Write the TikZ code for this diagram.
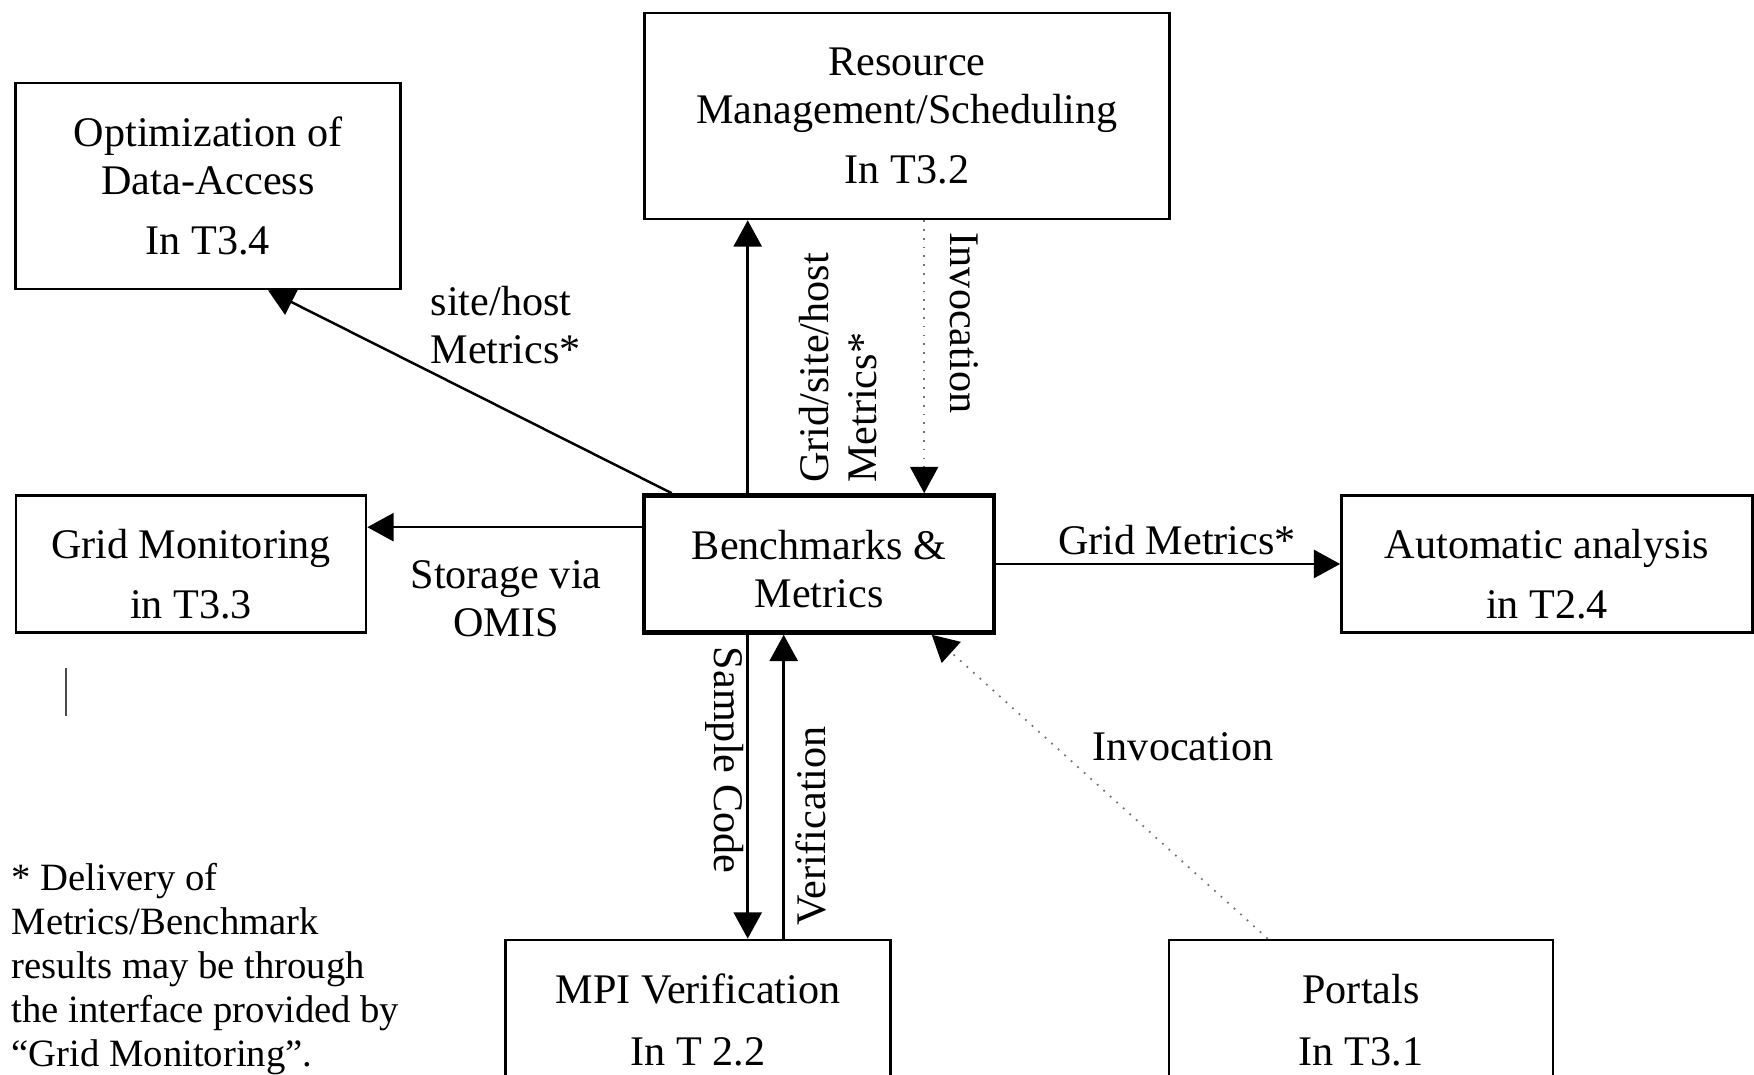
\documentclass[tikz,border=0pt]{standalone}
\usepackage{fontspec}
\setmainfont{Liberation Serif}
\usetikzlibrary{arrows.meta,calc}

\begin{document}
\begin{tikzpicture}[auto,
    box/.style={draw, line width=0.75pt, align=center, inner sep=0pt, font=\fontsize{12pt}{13.7pt}\selectfont},
    lab/.style={align=center, inner sep=0pt, font=\fontsize{12pt}{13.7pt}\selectfont},
    arr/.style={-{Triangle[length=7.5pt,width=8pt]}, line width=0.7pt},
    inv/.style={-{Triangle[length=7.5pt,width=8pt,color=black]}, draw=black!55, line width=0.5pt, dotted}]
    \clip (0.00, 0.00) rectangle (17.54, 10.75);
    \node [box, minimum width=3.85cm, minimum height=2.06cm] (a) at (2.08, 8.89) {Optimization of\\Data-Access\\[3.5pt]In T3.4};
    \node [box, minimum width=5.25cm, minimum height=2.06cm] (b) at (9.07, 9.59) {Resource\\Management/Scheduling\\[3.5pt]In T3.2};
    \node [box, minimum width=3.50cm, minimum height=1.37cm] (c) at (1.91, 5.11) {\rule{0pt}{14pt}Grid Monitoring\\[3.5pt]in T3.3};
    \node [box, minimum width=3.50cm, minimum height=1.37cm, line width=1.3pt] (d) at (8.19, 5.11) {\rule{0pt}{11pt}Benchmarks \&\\Metrics};
    \node [box, minimum width=4.11cm, minimum height=1.37cm] (e) at (15.47, 5.11) {\rule{0pt}{14pt}Automatic analysis\\[3.5pt]in T2.4};
    \node [box, minimum width=3.85cm, minimum height=1.60cm] (f) at (6.98, 0.55) {MPI Verification\\[4pt]In T 2.2};
    \node [box, minimum width=3.84cm, minimum height=1.60cm] (g) at (13.61, 0.55) {Portals\\[4pt]In T3.1};
    \draw [arr] ($(d.north west)+(0.30,0)$) to ($(a.south)+(0.60,0)$);
    \draw [arr] ($(d.north west)+(1.06,0)$) coordinate (q1) to (q1 |- b.south);
    \draw [inv] ($(b.south west)+(2.81,0)$) coordinate (q2) to (q2 |- d.north);
    \draw [arr] ($(d.north west)+(0,-0.34)$) coordinate (q3) to (q3 -| c.east);
    \draw [arr] (d) to (e);
    \draw [arr] ($(d.south west)+(1.06,0)$) coordinate (q4) to (q4 |- f.north);
    \draw [arr] ($(d.south west)+(1.42,0)$) coordinate (q5) (q5 |- f.north) to (q5);
    \draw [inv] ($(g.north west)+(1.00,0)$) to ($(d.south west)+(2.90,0)$);
    \node [lab, align=left, anchor=west] (h) at (4.30, 7.50) {site/host\\Metrics*};
    \node [lab, align=left, rotate=90] (i) at (8.38, 7.07) {Grid/site/host\\Metrics*};
    \node [lab, rotate=-90] (j) at (9.64, 7.52) {Invocation};
    \node [lab] (k) at (5.06, 4.76) {Storage via\\OMIS};
    \node [lab] (l) at (11.77, 5.35) {Grid Metrics*};
    \node [lab, rotate=-90] (m) at (7.25, 3.15) {Sample Code};
    \node [lab, rotate=90] (n) at (8.11, 2.49) {Verification};
    \node [lab] (o) at (11.83, 3.28) {Invocation};
    \node [lab, align=left, anchor=west, font=\fontsize{11pt}{12.5pt}\selectfont] (p) at (0.11, 1.06) {* Delivery of\\Metrics/Benchmark\\results may be through\\the interface provided by\\“Grid Monitoring”.};
    \draw [line width=0.5pt, black!70] (0.66, 4.07) -- (0.66, 3.59);
\end{tikzpicture}
\end{document}
